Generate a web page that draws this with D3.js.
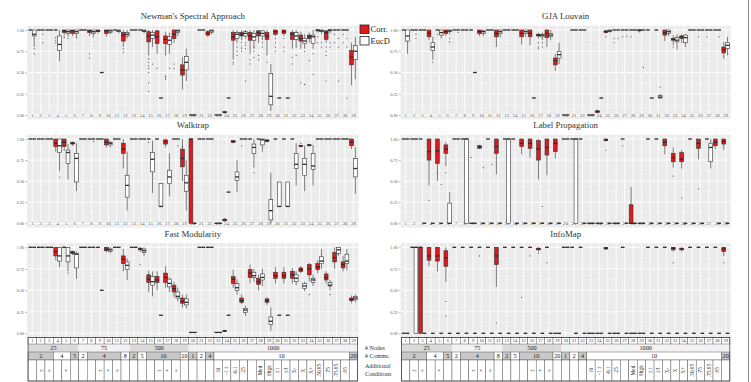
<!DOCTYPE html>
<html>
<head>
<meta charset="utf-8">
<script src="https://cdn.jsdelivr.net/npm/d3@7"></script>
<style>
  body { margin: 0; background: #fff; }
  text { font-family: "Liberation Serif", "DejaVu Serif", serif; }
</style>
</head>
<body>
<svg width="751" height="382"></svg>
<script>
(function(d3) {
  'use strict';

  // A plain number means a box collapsed to one value; arrays are [lo, q1, median, q3, hi].
  const conditions = d3.range(1, 40);

  const newmanCorr = [1, 1, 1, 1, [0.94, 0.97, 0.99, 1, 1], [0.93, 0.96, 0.99, 1, 1], 1,
    [0.93, 0.97, 0.99, 1, 1], [0.96, 0.98, 0.99, 1, 1], [0.94, 0.96, 0.99, 1, 1], 1,
    [0.8, 0.87, 0.94, 0.97, 1], 1, 1, [0.7, 0.86, 0.93, 0.98, 1], [0.72, 0.84, 0.92, 0.99, 1],
    [0.7, 0.84, 0.89, 0.93, 0.98], [0.85, 0.9, 0.95, 1, 1], [0.3, 0.47, 0.53, 0.59, 0.68], 0, 1,
    [0.92, 0.94, 0.96, 0.98, 1], 0, [0.02, 0.03, 0.03, 0.04, 0.05], [0.65, 0.88, 0.92, 0.97, 1],
    [0.88, 0.93, 0.95, 0.97, 1], [0.72, 0.88, 0.93, 0.97, 1], [0.85, 0.93, 0.97, 0.99, 1],
    [0.7, 0.89, 0.93, 0.97, 1], [0.93, 0.95, 0.98, 1, 1], [0.93, 0.96, 0.98, 1, 1],
    [0.78, 0.89, 0.95, 0.97, 1], [0.78, 0.87, 0.9, 0.94, 0.98], [0.85, 0.9, 0.92, 0.94, 0.97],
    [0.97, 0.99, 1, 1, 1], [0.85, 0.89, 0.97, 0.99, 1], 1, 1, [0.35, 0.59, 0.68, 0.76, 0.85]];
  const newmanEucd = [[0.8, 0.93, 0.95, 1, 1], 1, 1, [0.63, 0.76, 0.83, 0.93, 1],
    [0.92, 0.96, 0.98, 1, 1], [0.92, 0.96, 0.98, 1, 1], 1, [0.93, 0.96, 0.98, 1, 1], 0.5,
    [0.95, 0.97, 0.99, 1, 1], [0.96, 0.98, 0.99, 1, 1], [0.9, 0.93, 0.95, 0.97, 1], 1,
    [0.96, 0.98, 0.99, 1, 1], [0.8, 0.9, 0.94, 0.97, 1], 0.2, [0.72, 0.83, 0.88, 0.92, 0.97],
    [0.93, 0.97, 0.99, 1, 1], [0.4, 0.53, 0.62, 0.69, 0.78], 0, 1, [0.95, 0.97, 0.99, 1, 1], 0,
    0.2, [0.85, 0.9, 0.95, 0.97, 1], [0.9, 0.93, 0.96, 0.98, 1], [0.78, 0.88, 0.92, 0.96, 1],
    [0.88, 0.93, 0.96, 0.99, 1], [0.05, 0.12, 0.22, 0.49, 0.6], 0.2, 0.2,
    [0.8, 0.89, 0.93, 0.97, 1], [0.78, 0.84, 0.87, 0.9, 0.95], [0.78, 0.84, 0.92, 0.94, 1],
    [0.95, 0.98, 0.99, 1, 1], [0.96, 0.99, 1, 1, 1], 1, 1, [0.42, 0.65, 0.75, 0.82, 0.92]];
  const newmanOutCorr = [[4, 0.91], [4, 0.88], [4, 0.85], [5, 0.93], [5, 0.91], [8, 0.72],
    [8, 0.67], [10, 0.93], [12, 0.78], [12, 0.74], [15, 0.66], [15, 0.62], [15, 0.58],
    [15, 0.55], [15, 0.5], [15, 0.38], [15, 0.28], [16, 0.55], [17, 0.46], [17, 0.44],
    [17, 0.42], [18, 0.6], [18, 0.55], [25, 0.62], [25, 0.6], [26, 0.85], [26, 0.8],
    [26, 0.78], [26, 0.75], [27, 0.65], [27, 0.6], [28, 0.7], [28, 0.65], [29, 0.62],
    [30, 0.9], [30, 0.85], [30, 0.8], [30, 0.75], [31, 0.9], [31, 0.8], [31, 0.75],
    [32, 0.68], [32, 0.6], [33, 0.38], [34, 0.64], [35, 0.92], [35, 0.85], [36, 0.8],
    [36, 0.75], [36, 0.7], [36, 0.4], [37, 0.95], [37, 0.85], [38, 0.95], [38, 0.85]];
  const newmanOutEucd = [[1, 0.78], [1, 0.72], [2, 0.95], [2, 0.85], [5, 0.9], [6, 0.91],
    [8, 0.92], [15, 0.6], [17, 0.55], [25, 0.8], [25, 0.75], [25, 0.7], [26, 0.85],
    [26, 0.82], [26, 0.78], [26, 0.4], [27, 0.8], [27, 0.75], [27, 0.68], [28, 0.85],
    [28, 0.8], [32, 0.8], [32, 0.7], [33, 0.75], [33, 0.36], [34, 0.72], [34, 0.48],
    [35, 0.85], [35, 0.8], [36, 0.85], [36, 0.8], [37, 0.9], [37, 0.8], [37, 0.4],
    [38, 0.9], [38, 0.8], [38, 0.2]];

  const gjaCorr = [1, 1, 1, [0.88, 0.92, 0.96, 1, 1], 1, [0.93, 0.96, 0.98, 1, 1], 1, 1, 1,
    [0.93, 0.96, 0.98, 1, 1], 1, [0.8, 0.92, 0.96, 1, 1], 1, 1, [0.83, 0.92, 0.96, 1, 1],
    [0.82, 0.92, 0.96, 1, 1], [0.9, 0.93, 0.94, 0.95, 0.97], [0.8, 0.91, 0.96, 1, 1],
    [0.52, 0.59, 0.64, 0.67, 0.72], 0, 1, 1, 0, [0.02, 0.03, 0.04, 0.05, 0.06],
    [0.96, 0.97, 0.98, 0.99, 1], 1, 1, 1, [0.97, 0.99, 1, 1, 1], 1, 1,
    [0.87, 0.94, 0.97, 1, 1], [0.82, 0.88, 0.89, 0.9, 0.94], [0.85, 0.9, 0.92, 0.93, 0.95],
    1, 1, 1, 1, [0.66, 0.73, 0.77, 0.8, 0.86]];
  const gjaEucd = [[0.72, 0.87, 0.93, 1, 1], 1, 1, [0.65, 0.76, 0.8, 0.85, 0.92],
    [0.9, 0.94, 0.97, 1, 1], [0.95, 0.98, 0.99, 1, 1], 1, 1, 0.5, [0.93, 0.96, 0.98, 0.99, 1],
    1, [0.93, 0.96, 0.98, 1, 1], 1, 1, [0.92, 0.96, 0.98, 1, 1], 0.2,
    [0.88, 0.92, 0.94, 0.95, 0.97], [0.88, 0.92, 0.94, 0.96, 1], [0.6, 0.67, 0.71, 0.75, 0.85],
    0, 1, 1, 0, 0.2, [0.97, 0.98, 0.99, 1, 1], 1, 1, 1, 1, 0.2, [0.19, 0.2, 0.21, 0.23, 0.25],
    [0.93, 0.96, 0.98, 1, 1], [0.77, 0.86, 0.88, 0.91, 0.95], [0.8, 0.85, 0.91, 0.94, 0.95],
    1, 1, 1, 1, [0.7, 0.78, 0.82, 0.85, 0.92]];
  const gjaOutCorr = [[5, 0.95], [17, 0.85], [17, 0.8], [17, 0.78], [25, 0.92], [26, 0.9],
    [26, 0.85], [27, 0.92], [28, 0.92], [33, 0.8], [36, 0.92], [37, 0.92]];
  const gjaOutEucd = [[2, 0.95], [2, 0.9], [4, 0.62], [6, 0.9], [6, 0.86], [7, 0.97],
    [12, 0.92], [17, 0.85], [17, 0.8], [26, 0.9], [27, 0.93], [29, 0.56], [31, 0.33],
    [38, 0.92]];

  const walkCorr = [1, 1, 1, [0.85, 0.91, 0.95, 1, 1], [0.86, 0.91, 0.96, 1, 1],
    [0.92, 0.94, 0.95, 0.96, 0.97], 1, 1, 1, [0.9, 0.93, 0.96, 1, 1], 1,
    [0.65, 0.83, 0.88, 0.95, 1], 1, 1, 1, 1, [0.9, 0.94, 0.97, 0.99, 1], 1,
    [0.5, 0.67, 0.77, 0.88, 1], [0, 0, 1, 1, 1], 1, 1, 0, [0.02, 0.03, 0.04, 0.05, 0.06],
    [0.95, 0.96, 0.97, 0.98, 0.99], 1, 1, 1, [0.96, 0.97, 0.98, 0.99, 1], 1, 1, 1,
    [0.9, 0.91, 0.92, 0.92, 0.93], [0.91, 0.92, 0.93, 0.93, 0.94], 1, 1, 1, 1,
    [0.88, 0.92, 0.96, 1, 1]];
  const walkEucd = [1, 1, 1, [0.62, 0.84, 0.92, 1, 1], [0.52, 0.71, 0.84, 0.87, 0.94],
    [0.38, 0.49, 0.77, 0.83, 0.95], 1, 1, 1, [0.9, 0.93, 0.95, 0.96, 0.98], 1,
    [0.15, 0.31, 0.45, 0.57, 0.85], 1, 1, [0.36, 0.61, 0.76, 0.84, 0.98],
    [0.2, 0.2, 0.2, 0.47, 0.47], [0.32, 0.47, 0.55, 0.63, 0.83], 1,
    [0.15, 0.38, 0.48, 0.57, 0.75], 0, 1, 1, 0, 0.37, [0.37, 0.51, 0.55, 0.61, 0.75], 1,
    [0.66, 0.83, 0.9, 0.94, 1], [0.85, 0.93, 0.99, 1, 1], [0, 0.04, 0.15, 0.28, 0.6],
    [0.2, 0.2, 0.2, 0.49, 0.49], [0.2, 0.2, 0.2, 0.49, 0.49], [0.45, 0.65, 0.7, 0.83, 0.95],
    [0.38, 0.57, 0.7, 0.77, 0.92], [0.45, 0.64, 0.68, 0.83, 0.93], 1, 1, 1, 1,
    [0.35, 0.55, 0.65, 0.77, 0.9]];
  const walkOutCorr = [[15, 0.96], [26, 0.92], [33, 0.95], [19, 0.91]];
  const walkOutEucd = [[8, 0.97], [18, 0.92], [27, 0.6], [4, 0.55]];

  const lpCorr = [1, 1, 1, [0.45, 0.75, 0.85, 1, 1], [0.5, 0.71, 0.86, 1, 1],
    [0.68, 0.83, 0.88, 0.93, 0.96], 1, 1, 0, [0.88, 0.89, 0.91, 0.92, 0.93], 1,
    [0.58, 0.83, 0.91, 1, 1], 1, 1, [0.82, 0.91, 0.95, 1, 1], [0.78, 0.89, 0.95, 1, 1],
    [0.52, 0.75, 0.88, 0.98, 1], [0.57, 0.81, 0.9, 1, 1], [0.77, 0.85, 0.95, 1, 1], 1, 1, 1,
    0, 0, [0.97, 0.98, 0.99, 1, 1], 0, 1, [0, 0, 0, 0.22, 0.43], 0, 1, 1,
    [0.82, 0.92, 0.96, 1, 1], [0.66, 0.73, 0.78, 0.83, 0.9], [0.65, 0.73, 0.76, 0.84, 0.87],
    1, [0.76, 0.89, 0.95, 1, 1], 1, [0.88, 0.92, 0.96, 1, 1], [0.87, 0.94, 0.97, 1, 1]];
  const lpEucd = [1, 1, 0, 0, 0, [0, 0, 0, 0.24, 0.37], 1, [0, 0, 1, 1, 1], 0, 0, 0, 0,
    [0, 0, 1, 1, 1], 0, 0, 0, 0, 0, 0, 1, [0, 0, 1, 1, 1], 0, 0, 0, 0, 0, 0, 0, 0, 0, 0, 0,
    0, 0, 0, 0, [0.65, 0.73, 0.9, 0.95, 1], 0, 0];
  const lpOutCorr = [[4, 0.27], [5, 0.6], [6, 0.6], [9, 0.78], [25, 0.87], [27, 0.92],
    [33, 0.56], [34, 0.3], [36, 0.41]];
  const lpOutEucd = [[5, 0.46], [10, 0.66], [11, 0.7], [17, 0.2]];

  const fmCorr = [1, 1, 1, [0.85, 0.9, 0.95, 1, 1], 1, [0.92, 0.93, 0.94, 0.95, 0.96], 1, 1,
    1, [0.94, 0.96, 0.98, 1, 1], 1, [0.72, 0.81, 0.86, 0.9, 0.98], 1,
    [0.95, 0.97, 0.98, 0.99, 1], [0.48, 0.59, 0.63, 0.68, 0.73], [0.5, 0.59, 0.62, 0.66, 0.72],
    [0.53, 0.59, 0.65, 0.7, 0.78], [0.42, 0.48, 0.52, 0.56, 0.6],
    [0.3, 0.35, 0.37, 0.41, 0.45], 0.01, 1, 1, 0.01, [0.02, 0.02, 0.03, 0.03, 0.04],
    [0.53, 0.58, 0.63, 0.66, 0.74], [0.34, 0.36, 0.38, 0.41, 0.45],
    [0.58, 0.65, 0.7, 0.74, 0.8], [0.5, 0.57, 0.6, 0.64, 0.68], [0.33, 0.36, 0.38, 0.4, 0.42],
    [0.58, 0.64, 0.67, 0.71, 0.77], [0.58, 0.64, 0.67, 0.71, 0.77],
    [0.58, 0.64, 0.68, 0.72, 0.76], [0.7, 0.72, 0.74, 0.76, 0.78], [0.6, 0.68, 0.75, 0.8, 0.82],
    [0.7, 0.74, 0.77, 0.81, 0.85], [0.58, 0.62, 0.65, 0.69, 0.72],
    [0.75, 0.83, 0.88, 0.94, 1], [0.72, 0.76, 0.8, 0.83, 0.9], [0.35, 0.38, 0.39, 0.41, 0.44]];
  const fmEucd = [1, 1, 1, [0.77, 0.84, 0.9, 1, 1], [0.72, 0.83, 0.9, 1, 1],
    [0.63, 0.76, 0.92, 0.93, 0.95], 1, 1, 0.5, [0.93, 0.95, 0.97, 0.98, 1], 1,
    [0.62, 0.74, 0.79, 0.83, 0.87], 1, [0.9, 0.94, 0.96, 0.98, 1],
    [0.43, 0.56, 0.6, 0.66, 0.72], 0.21, [0.48, 0.54, 0.58, 0.63, 0.65],
    [0.37, 0.41, 0.43, 0.48, 0.53], [0.29, 0.33, 0.36, 0.4, 0.45], 0.01, 1, 1, 0.01, 0.21,
    [0.45, 0.5, 0.53, 0.58, 0.63], [0.2, 0.24, 0.27, 0.29, 0.32], [0.6, 0.65, 0.67, 0.71, 0.75],
    [0.55, 0.62, 0.65, 0.69, 0.75], [0.03, 0.1, 0.14, 0.19, 0.3], 0.21, 0.21,
    [0.56, 0.6, 0.64, 0.68, 0.72], [0.49, 0.52, 0.55, 0.58, 0.6], [0.55, 0.59, 0.62, 0.64, 0.68],
    [0.75, 0.81, 0.84, 0.89, 0.98], [0.5, 0.55, 0.56, 0.59, 0.62], [0.9, 0.93, 0.97, 1, 1],
    [0.73, 0.81, 0.84, 0.92, 0.98], [0.36, 0.39, 0.41, 0.43, 0.45]];
  const fmOutCorr = [[6, 0.92], [14, 0.8], [34, 0.45]];
  const fmOutEucd = [[5, 0.7], [36, 0.45]];

  const imCorr = [0, 1, [0, 0, 1, 1, 1], [0.78, 0.85, 0.9, 1, 1], [0.72, 0.84, 0.9, 1, 1],
    [0.6, 0.78, 0.88, 0.96, 1], 1, 1, 1, 1, 1, [0.54, 0.8, 0.9, 1, 1], 1, 1, 1, 1,
    [0.95, 0.97, 0.98, 0.99, 1], 1, 0, 1, 1, 1, 0, 0, [0.97, 0.98, 0.99, 1, 1], 0, 1, 0, 0,
    1, 1, 1, [0.95, 0.97, 0.99, 1, 1], [0.95, 0.97, 0.98, 0.99, 1], 1, 1, 1, 1,
    [0.9, 0.95, 0.98, 1, 1]];
  const imEucd = [0, [0, 0, 1, 1, 1], 0, 0, 0, 0, 0, 0, 0, 0, 0, 0, 0, 0, 0, 0, 0, 0, 0, 1,
    0, 0, 0, 0, 0, 0, 0, 0, 0, 0, 0, 0, 0, 0, 0, 0, 0, 0, 0];
  const imOutCorr = [[6, 0.37], [6, 0.2], [10, 0.9], [12, 0.12], [15, 0.42], [16, 0.9],
    [17, 0.93], [18, 0.82], [33, 0.82], [39, 0.82]];
  const imOutEucd = [];

  // bottom condition table
  const nodeLabels = ['25', '75', '500', '1000'];
  const nodeSpans = [[1, 6], [7, 12], [13, 19], [20, 39]];
  const commLabels = ['2', '4', '5', '2', '4', '8', '2', '5', '10', '20', '1', '2', '4', '10', '20'];
  const commSpans = [[1, 3], [4, 5], [6, 6], [7, 7], [8, 11], [12, 12], [13, 13], [14, 14],
    [15, 18], [19, 19], [20, 20], [21, 21], [22, 22], [23, 38], [39, 39]];
  const extraLabels = ['', '±', '≈', '', '×', '', '', '', '±', '×', '≈', '', '', '', '', '±',
    '×', '≈', '', '', '', '', '10', '-1 ±', '-0.1', '.25', '', 'Med', 'High', '±1', '±3', 'X-',
    'X', 'X+', '.50.95', '.75', '.75.95', '.95', ''];

  const yTicks = [0, 0.25, 0.5, 0.75, 1];
  const RED = '#dc1a1f';

  const svg = d3.select('svg');
  svg.append('rect').attr('width', 751).attr('height', 382).attr('fill', '#fff');

  const cols = [[27.2, 358.5], [400.6, 730.7]];
  const rows = [[30, 115], [139, 223.3], [247.3, 333.3]];
  const titleY = [19, 128, 237];

  const panels = [
    {title: 'Newman\'s Spectral Approach', c: 0, r: 0, corr: newmanCorr, eucd: newmanEucd,
      oc: newmanOutCorr, oe: newmanOutEucd},
    {title: 'GJA Louvain', c: 1, r: 0, corr: gjaCorr, eucd: gjaEucd,
      oc: gjaOutCorr, oe: gjaOutEucd},
    {title: 'Walktrap', c: 0, r: 1, corr: walkCorr, eucd: walkEucd,
      oc: walkOutCorr, oe: walkOutEucd},
    {title: 'Label Propagation', c: 1, r: 1, corr: lpCorr, eucd: lpEucd,
      oc: lpOutCorr, oe: lpOutEucd},
    {title: 'Fast Modularity', c: 0, r: 2, corr: fmCorr, eucd: fmEucd,
      oc: fmOutCorr, oe: fmOutEucd},
    {title: 'InfoMap', c: 1, r: 2, corr: imCorr, eucd: imEucd,
      oc: imOutCorr, oe: imOutEucd},
  ];

  function stats(v) {
    return typeof v === 'number' ? [v, v, v, v, v] : v;
  }

  panels.forEach(function(p) {
    const x = d3.scaleBand().domain(conditions).range(cols[p.c])
        .paddingInner(0).paddingOuter(0.1);
    const y = d3.scaleLinear().domain([0, 1]).range([rows[p.r][1], rows[p.r][0]]);
    const s = x.bandwidth();
    const bw = s * 0.45;
    const g = svg.append('g');

    g.append('rect')
        .attr('x', cols[p.c][0]).attr('width', cols[p.c][1] - cols[p.c][0])
        .attr('y', y(1.05)).attr('height', y(-0.05) - y(1.05))
        .attr('fill', '#ebebeb');

    g.selectAll('line.minor').data(d3.range(0.125, 1, 0.25)).enter().append('line')
        .attr('x1', cols[p.c][0]).attr('x2', cols[p.c][1])
        .attr('y1', y).attr('y2', y)
        .attr('stroke', '#f7f7f7').attr('stroke-width', 0.5);
    g.selectAll('line.hmaj').data(yTicks).enter().append('line')
        .attr('x1', cols[p.c][0]).attr('x2', cols[p.c][1])
        .attr('y1', y).attr('y2', y)
        .attr('stroke', '#fff').attr('stroke-width', 0.9);
    g.selectAll('line.vmaj').data(conditions).enter().append('line')
        .attr('x1', (d) => x(d) + s / 2).attr('x2', (d) => x(d) + s / 2)
        .attr('y1', y(1.05)).attr('y2', y(-0.05))
        .attr('stroke', '#fff').attr('stroke-width', 0.9);

    const yAxis = d3.axisLeft(y).tickValues(yTicks).tickFormat(d3.format('.2f'))
        .tickSize(1.5).tickPadding(1.5);
    const yg = g.append('g')
        .attr('transform', `translate(${cols[p.c][0]},0)`)
        .call(yAxis);
    yg.select('.domain').remove();
    yg.selectAll('line').attr('stroke', '#555').attr('stroke-width', 0.5);
    yg.selectAll('text').attr('font-size', 4.2).attr('fill', '#555')
        .attr('font-family', 'DejaVu Sans, sans-serif');

    if (p.r < 2) {
      const xAxis = d3.axisBottom(x).tickSize(0).tickPadding(0);
      const xg = g.append('g')
          .attr('transform', `translate(0,${y(0) - 1.5})`)
          .call(xAxis);
      xg.select('.domain').remove();
      xg.selectAll('text').attr('font-size', 4.6).attr('fill', '#555')
          .attr('font-family', 'DejaVu Sans, sans-serif');
    }

    g.append('text')
        .attr('x', (cols[p.c][0] + cols[p.c][1]) / 2).attr('y', titleY[p.r])
        .attr('text-anchor', 'middle').attr('font-size', 8.8).attr('fill', '#333')
        .text(p.title);

    const series = [
      {vals: p.corr, off: 0.275, fill: RED, out: p.oc},
      {vals: p.eucd, off: 0.725, fill: '#fff', out: p.oe},
    ];
    series.forEach(function(ser) {
      const cx = (i) => x(i) + s * ser.off;
      const boxes = g.append('g').selectAll('g').data(conditions).enter().append('g');
      boxes.append('line')
          .attr('x1', cx).attr('x2', cx)
          .attr('y1', (i) => y(stats(ser.vals[i - 1])[0]))
          .attr('y2', (i) => y(stats(ser.vals[i - 1])[4]))
          .attr('stroke', '#333').attr('stroke-width', 0.6);
      boxes.filter((i) => stats(ser.vals[i - 1])[3] > stats(ser.vals[i - 1])[1])
          .append('rect')
          .attr('x', (i) => cx(i) - bw / 2).attr('width', bw)
          .attr('y', (i) => y(stats(ser.vals[i - 1])[3]))
          .attr('height', (i) => y(stats(ser.vals[i - 1])[1]) - y(stats(ser.vals[i - 1])[3]))
          .attr('fill', ser.fill).attr('stroke', '#333').attr('stroke-width', 0.6);
      boxes.append('line')
          .attr('x1', (i) => cx(i) - bw / 2).attr('x2', (i) => cx(i) + bw / 2)
          .attr('y1', (i) => y(stats(ser.vals[i - 1])[2]))
          .attr('y2', (i) => y(stats(ser.vals[i - 1])[2]))
          .attr('stroke', '#2a2a2a').attr('stroke-width', 1.3);
      g.append('g').selectAll('circle').data(ser.out).enter().append('circle')
          .attr('cx', (d) => cx(d[0])).attr('cy', (d) => y(d[1]))
          .attr('r', 0.55).attr('fill', '#333');
    });

    if (p.r === 2) drawTable(x);
  });

  function drawTable(x) {
    const s = x.bandwidth();
    const x0 = x(1);
    const x1 = x(39) + s;
    const rY = [337.6, 344, 352, 360, 381];
    const t = svg.append('g');
    const spanX = (sp) => [x(sp[0]), x(sp[1]) + s];

    // nodes row
    t.selectAll('rect.node').data(nodeSpans).enter().append('rect')
        .attr('x', (d) => spanX(d)[0]).attr('width', (d) => spanX(d)[1] - spanX(d)[0])
        .attr('y', rY[1]).attr('height', rY[2] - rY[1])
        .attr('fill', (d, i) => i % 2 === 0 ? '#dadada' : '#f2f2f2');
    t.selectAll('text.node').data(nodeSpans).enter().append('text')
        .attr('x', (d) => (spanX(d)[0] + spanX(d)[1]) / 2).attr('y', rY[2] - 1.8)
        .attr('text-anchor', 'middle').attr('font-size', 6.2).attr('fill', '#222')
        .text((d, i) => nodeLabels[i]);

    // comms row
    t.selectAll('rect.comm').data(commSpans).enter().append('rect')
        .attr('x', (d) => spanX(d)[0]).attr('width', (d) => spanX(d)[1] - spanX(d)[0])
        .attr('y', rY[2]).attr('height', rY[3] - rY[2])
        .attr('fill', (d, i) => i % 2 === 0 ? '#c8c8c8' : '#fff')
        .attr('stroke', '#444').attr('stroke-width', 0.4);
    t.selectAll('text.comm').data(commSpans).enter().append('text')
        .attr('x', (d) => (spanX(d)[0] + spanX(d)[1]) / 2).attr('y', rY[3] - 1.8)
        .attr('text-anchor', 'middle').attr('font-size', 6.2).attr('fill', '#222')
        .text((d, i) => commLabels[i]);

    // number row and additional-condition row, one cell per condition
    [[rY[0], rY[1]], [rY[3], rY[4]]].forEach(function(band) {
      t.append('g').selectAll('rect').data(conditions).enter().append('rect')
          .attr('x', (d) => x(d)).attr('width', s)
          .attr('y', band[0]).attr('height', band[1] - band[0])
          .attr('fill', '#fff').attr('stroke', '#444').attr('stroke-width', 0.4);
    });
    t.append('g').selectAll('text').data(conditions).enter().append('text')
        .attr('x', (d) => x(d) + s / 2).attr('y', rY[1] - 1.6)
        .attr('text-anchor', 'middle').attr('font-size', 4.5).attr('fill', '#333')
        .text((d) => d);
    t.append('g').selectAll('text').data(conditions).enter().append('text')
        .attr('transform', (d) => `translate(${x(d) + s / 2 + 1.8},${(rY[3] + rY[4]) / 2}) rotate(-90)`)
        .attr('text-anchor', 'middle').attr('font-size', 5.2).attr('fill', '#222')
        .text((d) => extraLabels[d - 1]);

    t.append('rect')
        .attr('x', x0).attr('width', x1 - x0)
        .attr('y', rY[0]).attr('height', rY[4] - rY[0])
        .attr('fill', 'none').attr('stroke', '#333').attr('stroke-width', 0.7);
  }

  // row captions between the two tables
  const captions = [['# Nodes', 350], ['# Comms.', 358], ['Additional', 367.5], ['Conditions', 375.5]];
  svg.selectAll('text.cap').data(captions).enter().append('text')
      .attr('x', 365).attr('y', (d) => d[1])
      .attr('font-size', 6).attr('fill', '#333')
      .text((d) => d[0]);

  // legend
  const legend = svg.append('g').attr('transform', 'translate(360,25)');
  [['Corr.', RED], ['EucD', '#fff']].forEach(function(d, i) {
    legend.append('rect').attr('x', 0).attr('y', i * 11.5).attr('width', 9).attr('height', 8.5)
        .attr('fill', d[1]).attr('stroke', '#222').attr('stroke-width', 0.8);
    legend.append('text').attr('x', 10.5).attr('y', i * 11.5 + 7.3)
        .attr('font-size', 8.5).attr('fill', '#222').text(d[0]);
  });

  svg.append('line').attr('x1', 748.5).attr('x2', 748.5).attr('y1', 0).attr('y2', 382)
      .attr('stroke', '#888').attr('stroke-width', 1);
}(d3));
</script>
</body>
</html>
